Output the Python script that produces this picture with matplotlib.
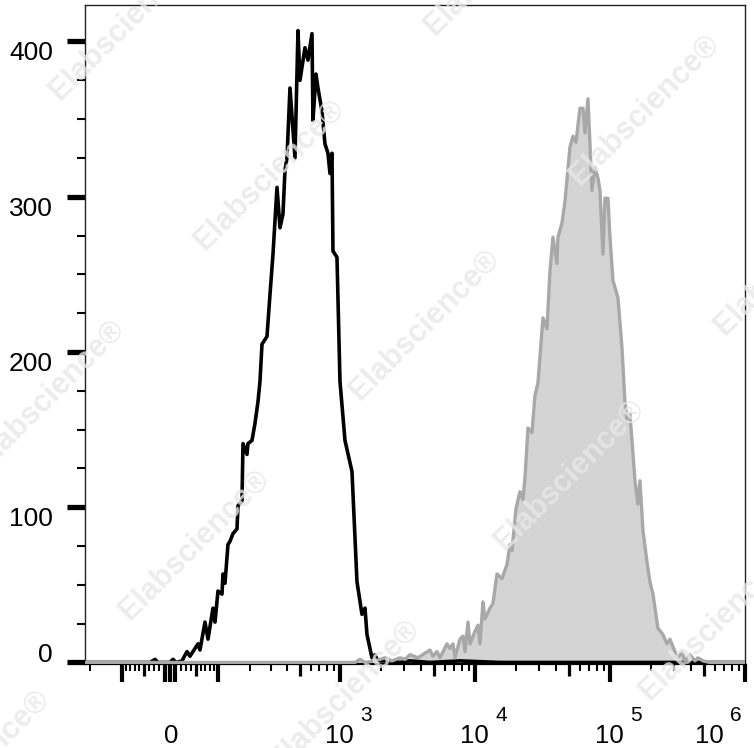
import numpy as np
import matplotlib
matplotlib.use('Agg')
import matplotlib.pyplot as plt
from matplotlib import transforms

plt.rcParams['font.family'] = ['Liberation Sans', 'DejaVu Sans']

# histogram data: display channel (0-660 across the biexponential axis) and event count
black_ch = [0, 65, 70, 73, 85, 88, 91, 97, 102, 105,
            109, 113, 115, 120, 123, 128, 130, 133, 137, 138,
            140, 143, 145, 148, 152, 153, 157, 158, 162, 163,
            167, 170, 173, 175, 177, 182, 185, 188, 192, 195,
            198, 200, 202, 205, 210, 213, 215, 220, 223, 227,
            228, 231, 233, 237, 240, 243, 245, 247, 248, 252,
            255, 260, 267, 272, 277, 280, 282, 287, 290, 292,
            295, 305, 315, 325, 345, 375, 415, 515, 615, 660]
black_count = [0, 0, 2, 0, 0, 2, 0, 1, 7, 4,
               8, 12, 8, 26, 15, 35, 26, 46, 44, 57,
               51, 76, 78, 83, 86, 101, 104, 141, 134, 141,
               143, 154, 168, 181, 205, 210, 237, 263, 306, 280,
               289, 317, 325, 370, 325, 407, 375, 396, 388, 405,
               349, 379, 370, 355, 334, 328, 315, 328, 265, 261,
               181, 143, 123, 52, 31, 35, 18, 3, 5, 2,
               1, 1, 0, 1, 0, 1, 0, 0, 0, 0]

gray_ch = [0, 270, 275, 280, 290, 300, 307, 315, 320, 325, 333, 340, 345, 348, 352, 355,
           362, 365, 368, 370, 375, 378, 380, 383, 385, 390, 393, 395, 398, 400,
           405, 408, 412, 417, 422, 425, 427, 431, 435, 438, 440, 443, 447, 450,
           453, 458, 462, 465, 468, 472, 473, 477, 480, 485, 488, 491, 495, 498,
           500, 503, 505, 507, 510, 513, 515, 518, 520, 523, 525, 528, 533, 537,
           540, 542, 545, 547, 550, 553, 555, 558, 562, 565, 568, 573, 578, 582,
           585, 590, 593, 597, 600, 605, 610, 613, 618, 625, 660]
gray_count = [0, 0, 2, 0, 1, 3, 1, 3, 2, 5, 3, 6, 8, 4, 7, 3,
              12, 9, 12, 3, 15, 17, 7, 26, 12, 20, 24, 12, 39, 28,
              35, 38, 57, 54, 63, 76, 72, 99, 110, 105, 119, 151, 148, 172,
              180, 222, 215, 252, 274, 257, 274, 283, 297, 332, 339, 335, 357, 357,
              341, 363, 334, 304, 319, 312, 304, 263, 299, 299, 274, 246, 235, 203,
              168, 157, 160, 143, 117, 102, 117, 85, 65, 52, 44, 22, 18, 12,
              15, 7, 3, 7, 1, 5, 1, 3, 1, 0, 0]

y_ticks = [0, 100, 200, 300, 400]
x_decades = [3, 4, 5, 6]


def to_ch(v):
    # biexponential (arcsinh) display transform, value -> channel
    return 85 + 58.63 * np.arcsinh(np.asarray(v, dtype=float) / 110.0)


fig = plt.figure(figsize=(7.54, 7.48), dpi=100)
ax = fig.add_axes([85 / 754, 84 / 748, 660 / 754, 659 / 748])

ax.fill_between(gray_ch, gray_count, 0, color='#d4d4d4', lw=0, zorder=1)
ax.plot(black_ch, black_count, color='black', lw=2.6, zorder=2)
ax.plot(gray_ch, gray_count, color='#a8a8a8', lw=2.4, zorder=3)

ax.set_xlim(0, float(to_ch(1e6)))
ax.set_ylim(-1, 423.5)

for s in ['left', 'top', 'right']:
    ax.spines[s].set_linewidth(1.0)
    ax.spines[s].set_color('#222222')
ax.spines['bottom'].set_linewidth(1.6)
ax.spines['bottom'].set_color('black')

# y axis
ax.set_yticks(y_ticks, labels=[str(t) for t in y_ticks])
ax.set_yticks(np.arange(0, 425, 25), minor=True)
ax.tick_params(axis='y', which='major', direction='out', length=13, width=3.8,
               pad=10, labelsize=19, color='black')
ax.tick_params(axis='y', which='minor', direction='out', length=5.8, width=1.5,
               color='black')
for lbl in ax.get_yticklabels():
    lbl.set_verticalalignment('baseline' if lbl.get_text() == '0' else 'top')

# x axis ticks: long, medium, short
long_vals = [-100, -10, 0, 10, 100, 1e3, 1e4, 1e5, 1e6]
mid_vals = [-50, 50, 500, 5e3, 5e4, 5e5]
short_vals = [-200] + [-k * 10 for k in range(2, 10) if k != 5] + \
             [k * 10 for k in range(2, 10) if k != 5]
for d in [100, 1e3, 1e4, 1e5]:
    short_vals += [k * d for k in range(2, 10) if k != 5]

tick_vals = long_vals + mid_vals + short_vals
tick_sizes = [(13, 3.0)] * len(long_vals) + [(8.6, 2.3)] * len(mid_vals) + \
             [(5, 1.5)] * len(short_vals)

ax.tick_params(axis='x', which='major', direction='out', labelbottom=False, color='black')
ax.set_xticks(to_ch(tick_vals))
ax.set_xticklabels([])
for tk, (ln, w) in zip(ax.xaxis.get_major_ticks(), tick_sizes):
    tk.tick1line.set_markersize(ln)
    tk.tick1line.set_markeredgewidth(w)

# x tick labels, drawn as "10" plus a large superscript
xtr = ax.get_xaxis_transform()
ax.text(float(to_ch(0)) + 1, 0, '0', fontsize=18.5, ha='center', va='baseline',
        transform=transforms.offset_copy(xtr, fig=fig, x=0, y=-79, units='dots'))
for d in x_decades:
    xc = float(to_ch(10 ** d))
    shift = -35 if d == 6 else 0
    ax.text(xc, 0, '10', fontsize=18.5, ha='right', va='baseline',
            transform=transforms.offset_copy(xtr, fig=fig, x=14 + shift, y=-79, units='dots'))
    ax.text(xc, 0, str(d), fontsize=15, ha='left', va='baseline',
            transform=transforms.offset_copy(xtr, fig=fig, x=20 + shift, y=-57, units='dots'))

# watermark
mark_xy = [(125, 25), (500, -40), (270, 175), (645, 110), (50, 395), (425, 325),
           (790, 260), (195, 545), (570, 475), (-25, 765), (345, 695), (715, 625)]
for px, py in mark_xy:
    fig.text(px / 754, 1 - py / 748, 'Elabscience®', rotation=45, ha='center',
             va='center', rotation_mode='anchor', fontsize=22, fontweight='bold',
             color='#e8e8e8', alpha=0.8, zorder=10)

fig.savefig('out.png', dpi=100)
